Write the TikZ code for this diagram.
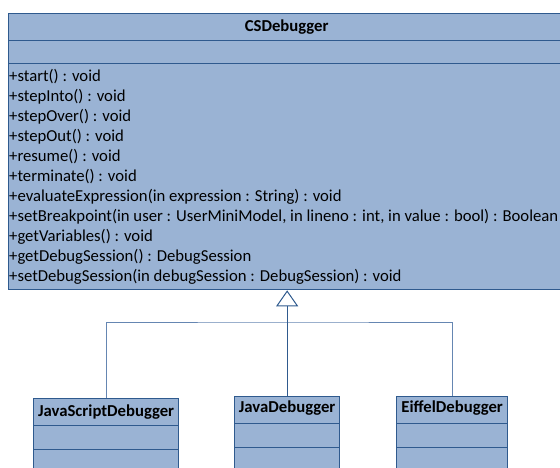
\documentclass[tikz,border=0pt]{standalone}
\usepackage{fontspec}
\setmainfont{Carlito}
\usetikzlibrary{arrows.meta}
\definecolor{classfill}{HTML}{9AB3D4}
\definecolor{classline}{HTML}{2F5A8E}
\definecolor{linkline}{HTML}{6586B2}
\tikzset{
  classpart/.style={draw=classline, fill=classfill, line width=1.3pt,
    rectangle, inner sep=0pt, anchor=north west},
  classname/.style={font=\fontsize{16.7}{20}\selectfont\bfseries},
  method/.style={font=\fontsize{16.7}{20}\selectfont, anchor=base west, inner sep=0pt},
  inherit/.style={draw=linkline, line width=1pt},
  generalize/.style={draw=classline, line width=1pt,
    -{Triangle[fill=white, length=16pt, width=22pt]}},
}
\begin{document}
\begin{tikzpicture}[x=1pt,y=-1pt]
\useasboundingbox (0,0) rectangle (560,467);

% base class CSDebugger
\node[classpart, minimum width=556pt, minimum height=27pt] (cs-head) at (8,13) {};
\node[classname] (cs-title) at (cs-head.center) {CSDebugger};
\node[classpart, minimum width=556pt, minimum height=23pt] (cs-attr) at (8,40) {};
\node[classpart, minimum width=556pt, minimum height=226pt] (cs-ops) at (8,63) {};
\foreach \m [count=\i] in {
  +start() : void,
  +stepInto() : void,
  +stepOver() : void,
  +stepOut() : void,
  +resume() : void,
  +terminate() : void,
  +evaluateExpression(in expression : String) : void,
  {+setBreakpoint(in user : UserMiniModel, in lineno : int, in value : bool) : Boolean},
  +getVariables() : void,
  +getDebugSession() : DebugSession,
  +setDebugSession(in debugSession : DebugSession) : void}
  \node[method] (op-\i) at (9, 61+20*\i) {\m};

% subclasses
\node[classpart, minimum width=145pt, minimum height=27pt] (js-head) at (33,398) {};
\node[classname] (js-title) at (js-head.center) {JavaScriptDebugger};
\node[classpart, minimum width=145pt, minimum height=24pt] (js-attr) at (33,425) {};
\node[classpart, minimum width=145pt, minimum height=30pt] (js-ops) at (33,449) {};

\node[classpart, minimum width=105pt, minimum height=27pt] (java-head) at (234,396) {};
\node[classname] (java-title) at ([yshift=2pt]java-head.center) {JavaDebugger};
\node[classpart, minimum width=105pt, minimum height=24pt] (java-attr) at (234,423) {};
\node[classpart, minimum width=105pt, minimum height=30pt] (java-ops) at (234,447) {};

\node[classpart, minimum width=111pt, minimum height=27pt] (eif-head) at (396,396) {};
\node[classname] (eif-title) at ([yshift=2pt]eif-head.center) {EiffelDebugger};
\node[classpart, minimum width=111pt, minimum height=24pt] (eif-attr) at (396,423) {};
\node[classpart, minimum width=111pt, minimum height=30pt] (eif-ops) at (396,447) {};

% generalization connectors
\coordinate (hub) at (java-head.north |- 0,322);
\draw[inherit] (js-head.north) |- (hub) -| (eif-head.north);
\draw[generalize] (java-head.north) -- (java-head.north |- cs-ops.south);
\end{tikzpicture}
\end{document}
